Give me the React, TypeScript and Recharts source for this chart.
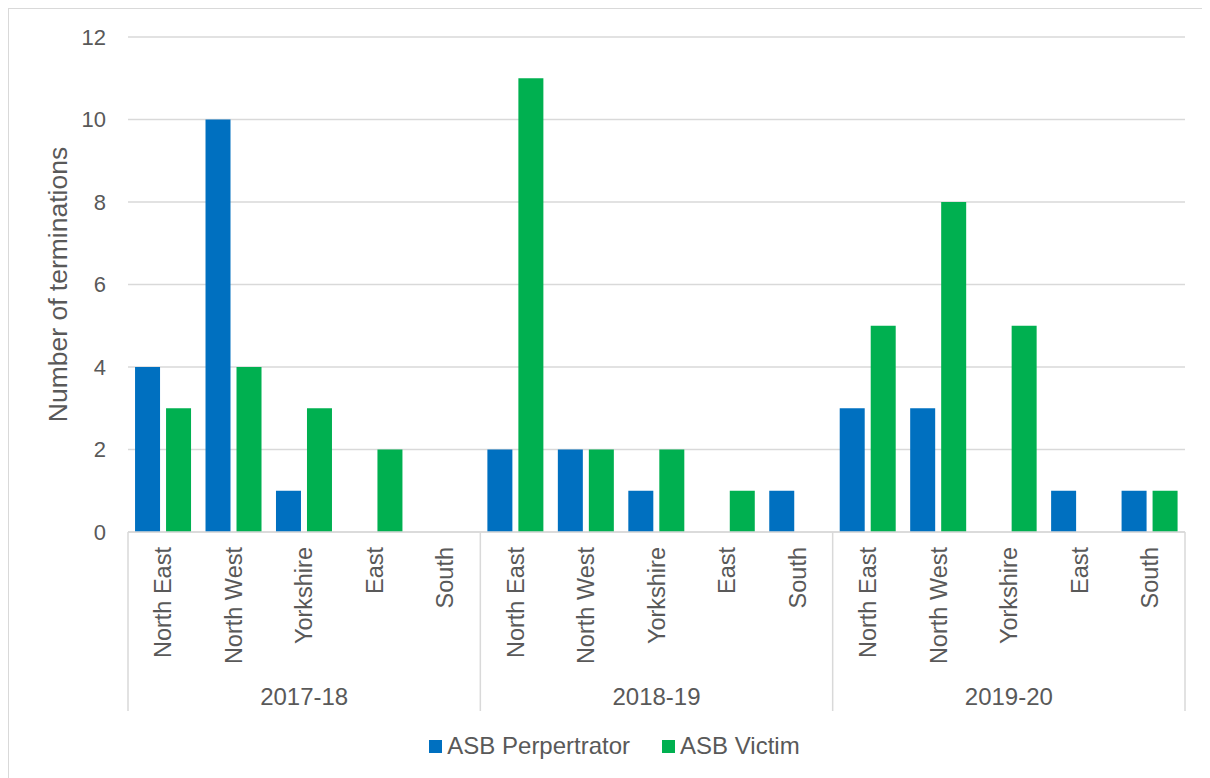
import React from 'react';
import { BarChart, Bar, XAxis, YAxis, CartesianGrid, Legend } from 'recharts';

const years = ['2017-18', '2018-19', '2019-20'];
const regions = ['North East', 'North West', 'Yorkshire', 'East', 'South'];
const perpetrator = [4, 10, 1, 0, 0, 2, 2, 1, 0, 1, 3, 3, 0, 1, 1];
const victim = [3, 4, 3, 2, 0, 11, 2, 2, 1, 0, 5, 8, 5, 0, 1];
const yTicks = [0, 2, 4, 6, 8, 10, 12];

const data = perpetrator.map((p, i) => ({
  region: regions[i % regions.length],
  year: years[Math.floor(i / regions.length)],
  perpetrator: p,
  victim: victim[i],
}));

const W = 1201;
const H = 769;
const M = { top: 28, right: 25, left: 0, bottom: 18 };
const Y_W = 119;
const X_H = 178;
const band = (W - M.left - M.right - Y_W) / data.length;
const txt = '#595959';
const grid = '#d9d9d9';
const font = '"Liberation Sans", Arial, sans-serif';

// tick y arrives 8px below the axis line (tickSize + tickMargin)
const RegionTick = (props: any) => {
  const { x, y, payload } = props;
  const i = payload.index;
  const row = data[i];
  const n = regions.length;
  const pos = i % n;
  const top = y - 8;
  return (
    <g>
      <text
        x={x}
        y={top + 15}
        dy="0.35em"
        transform={`rotate(-90, ${x}, ${top + 15})`}
        textAnchor="end"
        fill={txt}
        fontSize={23.5}
        fontFamily={font}
      >
        {row.region}
      </text>
      {pos === 0 && (
        <line x1={x - band / 2} y1={top} x2={x - band / 2} y2={top + 179} stroke={grid} strokeWidth={1.5} />
      )}
      {i === data.length - 1 && (
        <line x1={x + band / 2} y1={top} x2={x + band / 2} y2={top + 179} stroke={grid} strokeWidth={1.5} />
      )}
      {pos === Math.floor(n / 2) && (
        <text x={x} y={top + 173} textAnchor="middle" fill={txt} fontSize={24} fontFamily={font}>
          {row.year}
        </text>
      )}
    </g>
  );
};

const LegendContent = () => (
  <div
    style={{
      display: 'flex',
      justifyContent: 'center',
      paddingLeft: 10,
      fontFamily: font,
      fontSize: 24,
      lineHeight: '28px',
      color: txt,
    }}
  >
    <span style={{ display: 'flex', alignItems: 'center', marginRight: 32 }}>
      <span style={{ width: 13, height: 13, background: '#0070C0', marginRight: 5 }} />
      ASB Perpertrator
    </span>
    <span style={{ display: 'flex', alignItems: 'center' }}>
      <span style={{ width: 13, height: 13, background: '#00B050', marginRight: 5 }} />
      ASB Victim
    </span>
  </div>
);

export default function App() {
  return (
    <div
      style={{
        width: W,
        height: H,
        borderTop: `1.5px solid ${grid}`,
        borderLeft: `1.5px solid ${grid}`,
        background: '#fff',
      }}
    >
      <BarChart width={W} height={H} data={data} margin={M} barCategoryGap="10%" barGap={6}>
        <CartesianGrid vertical={false} stroke={grid} strokeWidth={1.5} />
        <XAxis
          dataKey="region"
          interval={0}
          height={X_H}
          tick={<RegionTick />}
          tickLine={false}
          axisLine={{ stroke: grid, strokeWidth: 1.5 }}
        />
        <YAxis
          width={Y_W}
          domain={[0, 12]}
          ticks={yTicks}
          tickLine={false}
          axisLine={false}
          tickMargin={16}
          tick={{ fill: txt, fontSize: 22, fontFamily: font }}
          label={{
            value: 'Number of terminations',
            angle: -90,
            position: 'center',
            dx: -11,
            style: { fill: txt, fontSize: 26.5, fontFamily: font, textAnchor: 'middle' },
          }}
        />
        <Legend
          verticalAlign="bottom"
          height={50}
          wrapperStyle={{ top: 723, left: 0, width: W }}
          content={<LegendContent />}
        />
        <Bar dataKey="perpetrator" name="ASB Perpertrator" fill="#0070C0" isAnimationActive={false} />
        <Bar dataKey="victim" name="ASB Victim" fill="#00B050" isAnimationActive={false} />
      </BarChart>
    </div>
  );
}
